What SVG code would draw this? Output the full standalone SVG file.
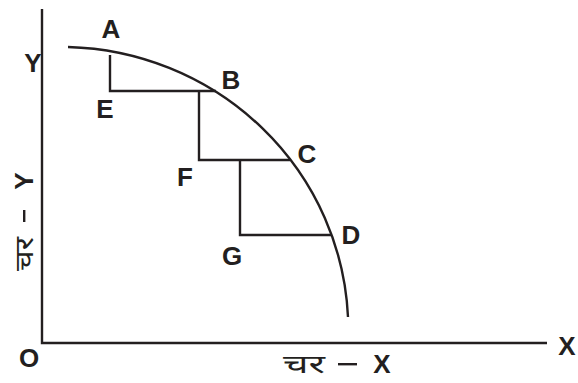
<svg xmlns="http://www.w3.org/2000/svg" width="578" height="383" viewBox="0 0 578 383">
<style>
.ln{fill:none;stroke:#231f20;stroke-width:2.4}
.lb{font-family:"Liberation Sans",Arial,sans-serif;font-weight:bold;font-size:26px;fill:#231f20;text-anchor:middle}
.hi{font-family:"Noto Sans","Noto Sans Devanagari","Liberation Sans",sans-serif;font-size:25px;fill:#231f20}
</style>
<rect width="578" height="383" fill="#fff"/>
<g id="axes">
<path class="ln" d="M42,9 V343 H547"/>
</g>
<g id="connectors">
<path class="ln" d="M68,47 A288,283 0 0 1 348,317"/>
<path class="ln" d="M110,55 V91 H216"/>
<path class="ln" d="M199,92 V160 H290"/>
<path class="ln" d="M240,160 V235 H332"/>
</g>
<g id="labels">
<text class="lb" x="111" y="38">A</text>
<text class="lb" x="33" y="72">Y</text>
<text class="lb" x="105" y="118">E</text>
<text class="lb" x="231" y="89">B</text>
<text class="lb" x="307" y="163">C</text>
<text class="lb" x="185" y="186">F</text>
<text class="lb" x="351" y="244">D</text>
<text class="lb" x="232" y="265">G</text>
<text class="lb" x="29" y="367">O</text>
<text class="lb" x="567" y="355">X</text>
</g>
<g id="xlabel">
<text class="hi" x="283" y="373" textLength="42" lengthAdjust="spacingAndGlyphs">चर</text>
<rect x="338" y="363" width="19" height="2.4" fill="#231f20"/>
<text class="lb" x="382" y="373">X</text>
</g>
<g id="ylabel" transform="translate(33,0) rotate(-90)">
<text class="hi" x="-271" y="0" textLength="34" lengthAdjust="spacingAndGlyphs">चर</text>
<rect x="-222" y="-10" width="12" height="2.4" fill="#231f20"/>
<text class="lb" x="-181" y="0">Y</text>
</g>
</svg>
